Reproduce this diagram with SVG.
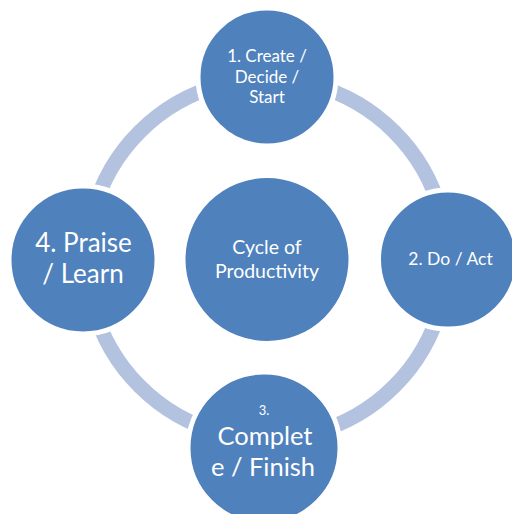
<svg xmlns="http://www.w3.org/2000/svg" width="512" height="514" viewBox="0 0 512 514">
<style>
.node{fill:#4F81BD;stroke:#FFFFFF;stroke-width:5}
.conn{fill:none;stroke:#B3C2DE;stroke-width:15}
text{font-family:Lato,"Liberation Sans",sans-serif;fill:#FFFFFF;text-anchor:middle}
</style>
<rect width="512" height="514" fill="#FFFFFF"/>
<g id="connectors">
<path class="conn" d="M440.87,305.59 A180,180 0 0 1 313.59,432.87"/>
<path class="conn" d="M220.41,432.87 A180,180 0 0 1 93.13,305.59"/>
<path class="conn" d="M93.13,212.41 A180,180 0 0 1 220.41,85.13"/>
<path class="conn" d="M313.59,85.13 A180,180 0 0 1 440.87,212.41"/>
</g>
<g id="center">
<circle class="node" cx="267" cy="259.5" r="84"/>
<text font-size="19.5"><tspan x="267" y="254">Cycle of</tspan><tspan x="267" y="278">Productivity</tspan></text>
</g>
<g id="step1">
<circle class="node" cx="267" cy="77" r="69"/>
<text font-size="17"><tspan x="267" y="62">1. Create /</tspan><tspan x="267" y="82.5">Decide /</tspan><tspan x="267" y="103">Start</tspan></text>
</g>
<g id="step2">
<circle class="node" cx="448" cy="259.5" r="69.5"/>
<text font-size="17.5"><tspan x="450.5" y="265">2. Do / Act</tspan></text>
</g>
<g id="step3">
<circle class="node" cx="264" cy="448" r="76"/>
<text font-size="13" x="264" y="415">3.</text>
<text font-size="25.5"><tspan x="265" y="445">Complet</tspan><tspan x="263" y="476">e / Finish</tspan></text>
</g>
<g id="step4">
<circle class="node" cx="83" cy="260" r="74"/>
<text font-size="26"><tspan x="83.5" y="252">4. Praise</tspan><tspan x="83" y="283">/ Learn</tspan></text>
</g>
</svg>
